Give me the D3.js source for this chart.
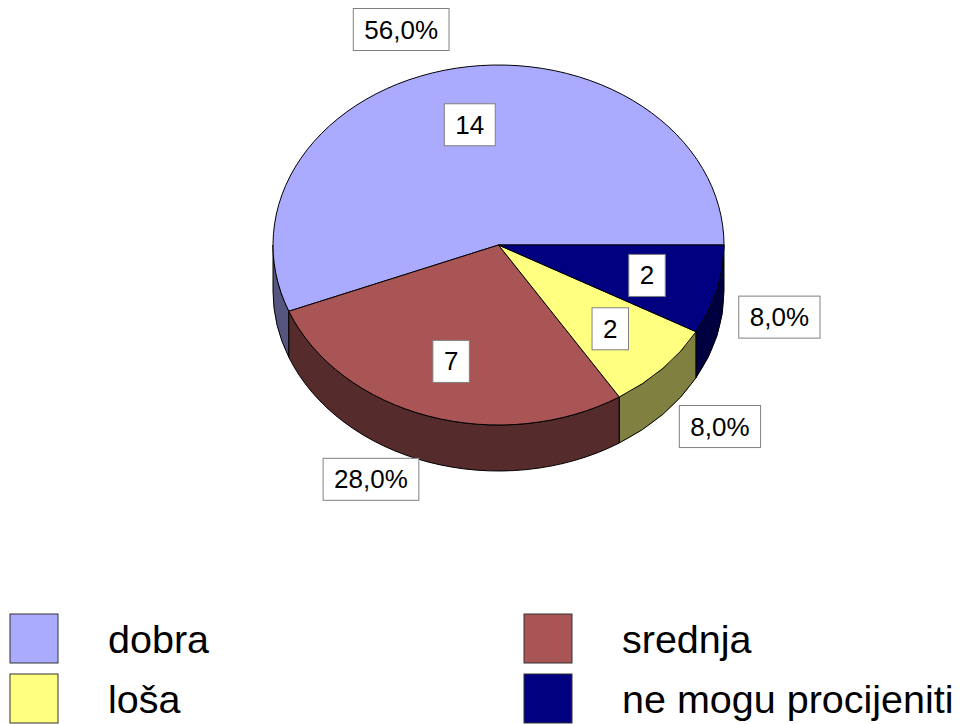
<!DOCTYPE html>
<html>
<head>
<meta charset="utf-8">
<script src="https://cdn.jsdelivr.net/npm/d3@7"></script>
<style>
  body { margin: 0; background: #fff; }
  svg  { display: block; }
  text { font-family: Arial, "Liberation Sans", sans-serif; fill: #000; }
</style>
</head>
<body>
<div id="chart"></div>
<script>
const categories = ['dobra', 'srednja', 'loša', 'ne mogu procijeniti'];
const counts     = [14, 7, 2, 2];
const topColors  = ['#aaaaff', '#aa5555', '#ffff80', '#000080'];

const width  = 964;
const height = 724;

// ellipse of the pie top, and thickness of the 3D side
const cx = 498.5, cy = 245, rx = 225.5, ry = 180, depth = 46;

const data  = categories.map((c, i) => ({name: c, value: counts[i]}));
const total = d3.sum(counts);

const color = d3.scaleOrdinal().domain(categories).range(topColors);
const sideColor = name => {
  const c = d3.rgb(color(name));
  return d3.rgb(c.r / 2, c.g / 2, c.b / 2).formatHex();
};

// decimal comma, as in the original
const locale  = d3.formatLocale({decimal: ',', thousands: '.', grouping: [3], currency: ['', '']});
const fmtPct  = locale.format('.1%');

const svg = d3.select('#chart')
  .append('svg')
  .attr('width', width)
  .attr('height', height);

// angles run counter clockwise from 3 o'clock
const pie  = d3.pie().sort(null).value(d => d.value);
const arcs = pie(data);

function pt(a, k = 1, dy = 0) {
  return [cx + k * rx * Math.cos(a), cy - k * ry * Math.sin(a) + dy];
}

// side walls (only the front half, angles between PI and 2PI)
const sides = arcs
  .map(d => ({d: d, a0: Math.max(d.startAngle, Math.PI), a1: Math.min(d.endAngle, 2 * Math.PI)}))
  .filter(s => s.a1 > s.a0);

svg.append('g')
  .selectAll('path')
  .data(sides)
  .join('path')
    .attr('d', s => {
      const p0 = pt(s.a0), p1 = pt(s.a1);
      const q0 = pt(s.a0, 1, depth), q1 = pt(s.a1, 1, depth);
      return `M${p0}A${rx},${ry} 0 0 0 ${p1}L${q1}A${rx},${ry} 0 0 1 ${q0}Z`;
    })
    .style('fill', s => sideColor(s.d.data.name))
    .style('stroke', '#000')
    .style('stroke-width', 1)
    .style('stroke-linejoin', 'round');

// top faces
svg.append('g')
  .selectAll('path')
  .data(arcs)
  .join('path')
    .attr('d', d => {
      const p0 = pt(d.startAngle), p1 = pt(d.endAngle);
      const large = d.endAngle - d.startAngle > Math.PI ? 1 : 0;
      return `M${cx},${cy}L${p0}A${rx},${ry} 0 ${large} 0 ${p1}Z`;
    })
    .style('fill', d => color(d.data.name))
    .style('stroke', '#000')
    .style('stroke-width', 1)
    .style('stroke-linejoin', 'round');

// boxed label helper
const boxH = 42;
function boxedLabel(g, txt) {
  const t = g.append('text')
    .style('font-size', '26px')
    .attr('text-anchor', 'middle')
    .text(txt);
  const w = t.node().getComputedTextLength() + 22;
  g.insert('rect', 'text')
    .attr('x', -w / 2)
    .attr('y', -boxH / 2)
    .attr('width', w)
    .attr('height', boxH)
    .style('fill', '#fff')
    .style('stroke', '#808080')
    .style('stroke-width', 1);
  t.attr('y', 9);
  return w;
}

// value labels, inside the slices
arcs.forEach(d => {
  const mid = (d.startAngle + d.endAngle) / 2;
  const p = pt(mid, 0.68);
  const g = svg.append('g').attr('transform', `translate(${p[0]},${p[1]})`);
  boxedLabel(g, d.data.value);
});

// percentage labels, outside the pie
arcs.forEach(d => {
  const mid = (d.startAngle + d.endAngle) / 2;
  const c = Math.cos(mid), s = Math.sin(mid);
  const a = pt(mid, 1.1);
  const g = svg.append('g');
  const w = boxedLabel(g, fmtPct(d.data.value / total));
  const x = c < 0 ? a[0] - w / 2 - 3 : a[0] + w / 2;
  const y = s > 0 ? a[1] - boxH / 2 : a[1] + depth * Math.min(1, 2 * Math.abs(s));
  g.attr('transform', `translate(${x},${y})`);
});

// legend, two columns
const legendX = d3.scalePoint().domain([0, 1]).range([10, 524]);
const legendY = d3.scalePoint().domain([0, 1]).range([614, 674]);

const legend = svg.append('g')
  .selectAll('g')
  .data(categories)
  .join('g')
    .attr('transform', (d, i) => `translate(${legendX(i % 2)},${legendY(Math.floor(i / 2))})`);

legend.append('rect')
  .attr('width', 48)
  .attr('height', 49)
  .style('fill', d => color(d))
  .style('stroke', '#333')
  .style('stroke-width', 1);

legend.append('text')
  .attr('x', 98)
  .attr('y', 39)
  .style('font-size', '39.5px')
  .text(d => d);
</script>
</body>
</html>
